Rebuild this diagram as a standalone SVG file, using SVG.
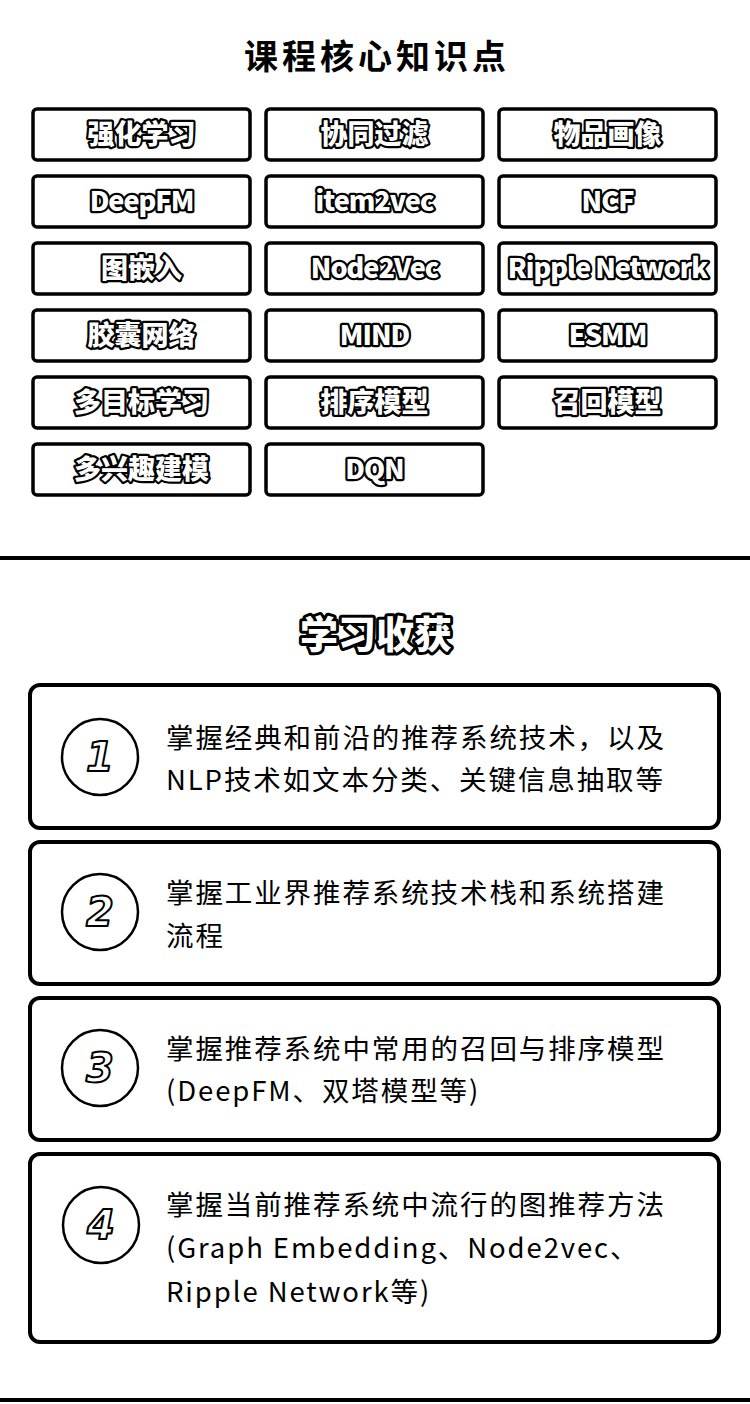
<svg xmlns="http://www.w3.org/2000/svg" width="750" height="1404" viewBox="0 0 750 1404">
<style>
.bg{fill:#fff}
.btn{fill:#fff;stroke:#000;stroke-width:3.5}
.bt{font-family:"Noto Sans CJK SC","Noto Sans",sans-serif;font-weight:900;font-size:27px;fill:#fff;stroke:#000;stroke-width:4.5;stroke-linejoin:round;paint-order:stroke;text-anchor:middle}
.lat{letter-spacing:-1px}
.card{fill:#fff;stroke:#000;stroke-width:4}
.circ{fill:#fff;stroke:#000;stroke-width:2.5}
.num{font-family:"DejaVu Sans",sans-serif;font-weight:bold;font-style:italic;font-size:40px;fill:#fff;stroke:#000;stroke-width:2;stroke-linejoin:round;text-anchor:middle}
.tx{font-family:"Noto Sans CJK SC","Noto Sans",sans-serif;font-size:27.5px;fill:#000;letter-spacing:1.9px}
.sep{stroke:#000;stroke-width:4}
</style>
<rect class="bg" x="0" y="0" width="750" height="1404"/>
<g id="title1">
<text x="377" y="69" font-family="Noto Sans CJK SC,sans-serif" font-weight="bold" font-size="34" letter-spacing="4" text-anchor="middle" fill="#000">课程核心知识点</text>
</g>
<g id="buttons">
<g id="b1"><rect class="btn" x="33" y="109" width="217" height="51" rx="4"/><text class="bt" x="141.5" y="144">强化学习</text></g>
<g id="b2"><rect class="btn" x="266" y="109" width="217" height="51" rx="4"/><text class="bt" x="374.5" y="144">协同过滤</text></g>
<g id="b3"><rect class="btn" x="499" y="109" width="217" height="51" rx="4"/><text class="bt" x="607.5" y="144">物品画像</text></g>
<g id="b4"><rect class="btn" x="33" y="176" width="217" height="51" rx="4"/><text class="bt lat" x="141.5" y="211">DeepFM</text></g>
<g id="b5"><rect class="btn" x="266" y="176" width="217" height="51" rx="4"/><text class="bt lat" x="374.5" y="211">item2vec</text></g>
<g id="b6"><rect class="btn" x="499" y="176" width="217" height="51" rx="4"/><text class="bt lat" x="607.5" y="211">NCF</text></g>
<g id="b7"><rect class="btn" x="33" y="243" width="217" height="51" rx="4"/><text class="bt" x="141.5" y="278">图嵌入</text></g>
<g id="b8"><rect class="btn" x="266" y="243" width="217" height="51" rx="4"/><text class="bt lat" x="374.5" y="278">Node2Vec</text></g>
<g id="b9"><rect class="btn" x="499" y="243" width="217" height="51" rx="4"/><text class="bt lat" x="607.5" y="278">Ripple Network</text></g>
<g id="b10"><rect class="btn" x="33" y="310" width="217" height="51" rx="4"/><text class="bt" x="141.5" y="345">胶囊网络</text></g>
<g id="b11"><rect class="btn" x="266" y="310" width="217" height="51" rx="4"/><text class="bt lat" x="374.5" y="345">MIND</text></g>
<g id="b12"><rect class="btn" x="499" y="310" width="217" height="51" rx="4"/><text class="bt lat" x="607.5" y="345">ESMM</text></g>
<g id="b13"><rect class="btn" x="33" y="377" width="217" height="51" rx="4"/><text class="bt" x="141.5" y="412">多目标学习</text></g>
<g id="b14"><rect class="btn" x="266" y="377" width="217" height="51" rx="4"/><text class="bt" x="374.5" y="412">排序模型</text></g>
<g id="b15"><rect class="btn" x="499" y="377" width="217" height="51" rx="4"/><text class="bt" x="607.5" y="412">召回模型</text></g>
<g id="b16"><rect class="btn" x="33" y="444" width="217" height="51" rx="4"/><text class="bt" x="141.5" y="479">多兴趣建模</text></g>
<g id="b17"><rect class="btn" x="266" y="444" width="217" height="51" rx="4"/><text class="bt lat" x="374.5" y="479">DQN</text></g>
</g>
<g id="separators">
<line class="sep" x1="0" y1="558" x2="750" y2="558"/>
<line class="sep" x1="0" y1="1400" x2="750" y2="1400"/>
</g>
<g id="title2">
<text class="bt" x="376" y="648" style="font-size:38px;stroke-width:6">学习收获</text>
</g>
<g id="card1">
<rect class="card" x="30" y="685" width="689" height="143" rx="10"/>
<circle class="circ" cx="100" cy="757" r="38"/>
<text class="num" x="100" y="771">1</text>
<text class="tx" x="166" y="748">掌握经典和前沿的推荐系统技术，以及</text>
<text class="tx" x="166" y="790">NLP技术如文本分类、关键信息抽取等</text>
</g>
<g id="card2">
<rect class="card" x="30" y="842" width="689" height="142" rx="10"/>
<circle class="circ" cx="100" cy="912" r="38"/>
<text class="num" x="100" y="926">2</text>
<text class="tx" x="166" y="903">掌握工业界推荐系统技术栈和系统搭建</text>
<text class="tx" x="166" y="946">流程</text>
</g>
<g id="card3">
<rect class="card" x="30" y="998" width="689" height="142" rx="10"/>
<circle class="circ" cx="100" cy="1068" r="38"/>
<text class="num" x="100" y="1082">3</text>
<text class="tx" x="166" y="1059">掌握推荐系统中常用的召回与排序模型</text>
<text class="tx" x="166" y="1101">(DeepFM、双塔模型等)</text>
</g>
<g id="card4">
<rect class="card" x="30" y="1154" width="689" height="188" rx="10"/>
<circle class="circ" cx="101" cy="1225" r="38"/>
<text class="num" x="101" y="1239">4</text>
<text class="tx" x="166" y="1215">掌握当前推荐系统中流行的图推荐方法</text>
<text class="tx" x="166" y="1258">(Graph Embedding、Node2vec、</text>
<text class="tx" x="166" y="1302">Ripple Network等)</text>
</g>
</svg>
